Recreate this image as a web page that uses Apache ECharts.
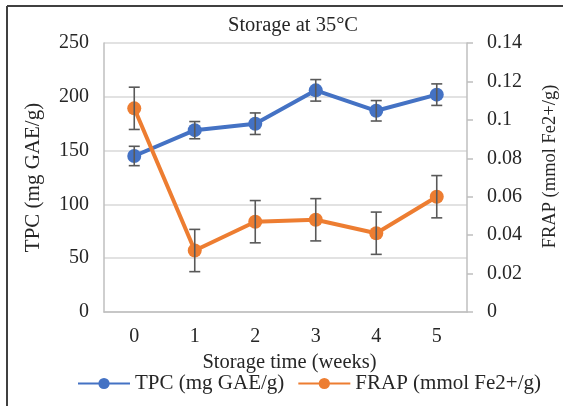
<!DOCTYPE html>
<html>
<head>
<meta charset="utf-8">
<script src="https://cdn.jsdelivr.net/npm/echarts@6/dist/echarts.min.js"></script>
<style>
html,body{margin:0;padding:0;background:#fff;}
#chart{width:568px;height:406px;}
</style>
</head>
<body>
<div id="chart"></div>
<script>
const weeks = ['0', '1', '2', '3', '4', '5'];
const tpcValues = [145, 169, 175, 206, 187, 202];
const tpcErrors = [9, 8, 10, 10, 9.5, 10];
const frapValues = [0.106, 0.032, 0.047, 0.048, 0.041, 0.060];
const frapErrors = [0.011, 0.011, 0.011, 0.011, 0.011, 0.011];
const titleText = 'Storage at 35°C';
const xName = 'Storage time (weeks)';
const tpcName = 'TPC (mg GAE/g)';
const frapName = 'FRAP (mmol Fe2+/g)';

const FONT = 'Liberation Serif';
const chart = echarts.init(document.getElementById('chart'), null, {renderer: 'canvas'});

function errData(vals, errs) {
  return vals.map((v, i) => [i, v - errs[i], v + errs[i]]);
}
function errRender(params, api) {
  const x = api.value(0);
  const lo = api.coord([x, api.value(1)]);
  const hi = api.coord([x, api.value(2)]);
  const w = 5.5;
  const st = {stroke: '#595959', lineWidth: 1.6};
  return {
    type: 'group',
    children: [
      {type: 'line', shape: {x1: hi[0], y1: hi[1], x2: lo[0], y2: lo[1]}, style: st},
      {type: 'line', shape: {x1: hi[0] - w, y1: hi[1], x2: hi[0] + w, y2: hi[1]}, style: st},
      {type: 'line', shape: {x1: lo[0] - w, y1: lo[1], x2: lo[0] + w, y2: lo[1]}, style: st}
    ]
  };
}

chart.setOption({
  animation: false,
  textStyle: {fontFamily: FONT},
  title: {
    text: titleText,
    left: 223, top: 10,
    textStyle: {fontFamily: FONT, fontSize: 20.5, fontWeight: 'normal', color: '#262626'}
  },
  legend: {
    bottom: 7, left: 72,
    itemWidth: 52, itemHeight: 14, itemGap: 13,
    data: [tpcName, frapName],
    textStyle: {fontFamily: FONT, fontSize: 21, color: '#262626'}
  },
  grid: {left: 104, right: 98, top: 43, bottom: 94},
  xAxis: {
    type: 'category',
    data: weeks,
    boundaryGap: true,
    name: xName,
    nameLocation: 'middle',
    nameGap: 31,
    nameTextStyle: {fontFamily: FONT, fontSize: 20.5, color: '#262626', padding: [0, 0, 0, 8]},
    axisLine: {lineStyle: {color: '#bfbfbf', width: 1.5}},
    axisTick: {show: false},
    axisLabel: {fontFamily: FONT, fontSize: 20, color: '#262626', margin: 15}
  },
  yAxis: [
    {
      type: 'value', min: 0, max: 250, interval: 50,
      name: tpcName, nameLocation: 'middle', nameGap: 60,
      nameTextStyle: {fontFamily: FONT, fontSize: 21, color: '#262626'},
      axisLine: {show: true, lineStyle: {color: '#bfbfbf', width: 1.5}},
      axisTick: {show: false},
      axisLabel: {fontFamily: FONT, fontSize: 20, color: '#262626', margin: 15},
      splitLine: {show: true, lineStyle: {color: '#d9d9d9', width: 1.5}}
    },
    {
      type: 'value', min: 0, max: 0.14, interval: 0.02,
      position: 'right',
      name: frapName, nameLocation: 'middle', nameGap: 74,
      nameRotate: 90,
      nameTextStyle: {fontFamily: FONT, fontSize: 18.5, color: '#262626', padding: [0, 0, 0, 22]},
      axisLine: {show: true, lineStyle: {color: '#bfbfbf', width: 1.5}},
      axisTick: {show: true, inside: false, length: 6, lineStyle: {color: '#bfbfbf', width: 1.5}},
      axisLabel: {fontFamily: FONT, fontSize: 20, color: '#262626', margin: 20,
        formatter: v => String(Math.round(v * 100) / 100)},
      splitLine: {show: false}
    }
  ],
  graphic: [
    {type: 'line', shape: {x1: 7, y1: 6, x2: 563, y2: 6}, style: {stroke: '#404040', lineWidth: 2}},
    {type: 'line', shape: {x1: 7, y1: 6, x2: 7, y2: 406}, style: {stroke: '#404040', lineWidth: 2}}
  ],
  series: [
    {
      name: tpcName, type: 'line', yAxisIndex: 0, data: tpcValues,
      symbol: 'circle', symbolSize: 14, z: 3,
      itemStyle: {color: '#4472C4'},
      lineStyle: {color: '#4472C4', width: 4}
    },
    {
      name: frapName, type: 'line', yAxisIndex: 1, data: frapValues,
      symbol: 'circle', symbolSize: 14, z: 3,
      itemStyle: {color: '#ED7D31'},
      lineStyle: {color: '#ED7D31', width: 4}
    },
    {
      type: 'custom', yAxisIndex: 0, z: 4,
      renderItem: errRender, data: errData(tpcValues, tpcErrors)
    },
    {
      type: 'custom', yAxisIndex: 1, z: 4,
      renderItem: errRender, data: errData(frapValues, frapErrors)
    }
  ]
});
</script>
</body>
</html>
